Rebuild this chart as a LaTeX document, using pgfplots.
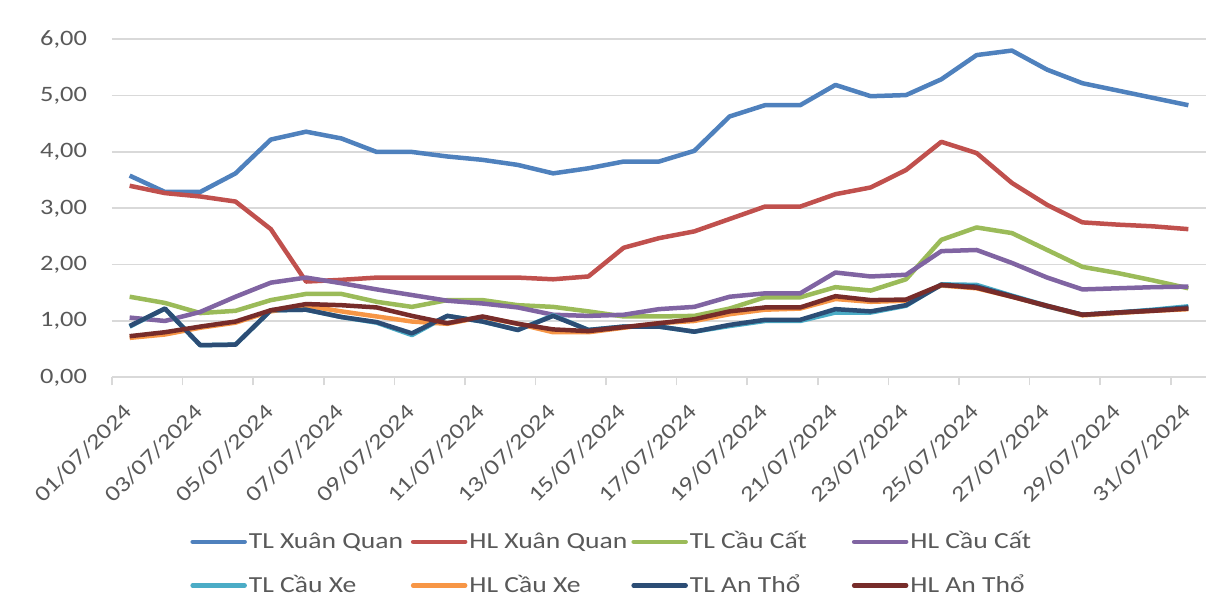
\documentclass[border=0pt]{standalone}
\usepackage{pgfplots}
\pgfplotsset{compat=1.18}
\usepackage{pgfplotstable}
\usepackage{fontspec}
\setmainfont{Carlito}[FakeStretch=1.2]
\definecolor{cA}{HTML}{4F81BD}
\definecolor{cB}{HTML}{C0504D}
\definecolor{cC}{HTML}{9BBB59}
\definecolor{cD}{HTML}{8064A2}
\definecolor{cE}{HTML}{4BACC6}
\definecolor{cF}{HTML}{F79646}
\definecolor{cG}{HTML}{2C4D75}
\definecolor{cH}{HTML}{772C2A}
\definecolor{gridc}{HTML}{D9D9D9}
\definecolor{txtc}{HTML}{595959}
\pgfplotstableread{
day TLXQ HLXQ TLCC HLCC TLCX HLCX TLAT HLAT
1 3.58 3.40 1.43 1.06 0.90 0.70 0.91 0.73
2 3.29 3.27 1.32 1.00 1.22 0.76 1.22 0.80
3 3.29 3.21 1.14 1.16 0.57 0.88 0.57 0.90
4 3.62 3.12 1.18 1.43 0.58 0.97 0.58 0.99
5 4.22 2.63 1.37 1.68 1.19 1.17 1.19 1.19
6 4.36 1.70 1.48 1.77 1.20 1.27 1.20 1.30
7 4.24 1.73 1.48 1.67 1.07 1.17 1.07 1.28
8 4.00 1.77 1.34 1.56 0.97 1.08 0.98 1.24
9 4.00 1.77 1.25 1.46 0.75 0.99 0.78 1.09
10 3.92 1.77 1.37 1.36 1.09 0.95 1.09 0.96
11 3.86 1.77 1.37 1.31 0.99 1.07 0.99 1.08
12 3.77 1.77 1.28 1.24 0.84 0.95 0.84 0.95
13 3.62 1.74 1.25 1.11 1.10 0.80 1.09 0.85
14 3.71 1.79 1.17 1.09 0.84 0.80 0.84 0.82
15 3.83 2.30 1.08 1.11 0.90 0.88 0.90 0.89
16 3.83 2.47 1.08 1.21 0.90 0.96 0.90 0.96
17 4.02 2.59 1.09 1.25 0.81 1.00 0.81 1.03
18 4.63 2.81 1.22 1.43 0.91 1.12 0.93 1.17
19 4.83 3.03 1.42 1.49 1.00 1.20 1.02 1.24
20 4.83 3.03 1.42 1.49 1.00 1.22 1.02 1.24
21 5.19 3.25 1.60 1.86 1.15 1.39 1.21 1.44
22 4.99 3.37 1.54 1.79 1.15 1.34 1.17 1.37
23 5.01 3.68 1.74 1.82 1.27 1.36 1.28 1.38
24 5.29 4.18 2.44 2.24 1.65 1.63 1.64 1.64
25 5.72 3.98 2.66 2.26 1.64 1.58 1.61 1.59
26 5.80 3.45 2.56 2.03 1.45 1.43 1.44 1.43
27 5.46 3.06 2.26 1.77 1.27 1.26 1.26 1.27
28 5.22 2.75 1.96 1.56 1.11 1.10 1.11 1.11
29 5.09 2.71 1.85 1.58 1.15 1.14 1.15 1.15
30 4.96 2.68 1.72 1.60 1.20 1.18 1.19 1.18
31 4.83 2.63 1.58 1.61 1.26 1.21 1.24 1.22
}\datatable
\newcommand{\lt}[1]{\makebox[80pt][l]{#1}}
\begin{document}
\begin{tikzpicture}
\begin{axis}[
  scale only axis,
  width=547pt, height=169pt,
  xmin=0.5, xmax=31.5, ymin=0, ymax=6,
  xtick={1,3,...,31},
  xticklabels={01/07/2024,03/07/2024,05/07/2024,07/07/2024,09/07/2024,11/07/2024,13/07/2024,15/07/2024,17/07/2024,19/07/2024,21/07/2024,23/07/2024,25/07/2024,27/07/2024,29/07/2024,31/07/2024},
  minor xtick={0.5,2.5,...,30.5},
  ytick={0,1,...,6},
  major tick length=0pt,
  minor tick length=4pt,
  tick align=outside,
  xtick pos=bottom, ytick pos=left,
  axis line style={draw=none},
  ymajorgrids,
  grid style={draw=gridc, line width=0.8pt},
  minor tick style={draw=gridc, line width=0.8pt},
  tick label style={font=\fontsize{11}{13}\selectfont, text=txtc},
  /pgf/number format/use comma,
  /pgf/number format/fixed,
  /pgf/number format/fixed zerofill,
  /pgf/number format/precision=2,
  /pgf/number format/assume math mode=true,
  yticklabel style={xshift=-9pt},
  xticklabel style={xshift=1.8pt, yshift=-13pt, rotate=45, anchor=east},
  every axis plot/.append style={line width=2.25pt, line join=round, no markers},
  legend image code/.code={\draw[#1, line width=2.25pt, line cap=round] (0pt,0pt) -- (26pt,0pt);},
  legend columns=4,
  legend style={draw=none, at={(axis description cs:0,0)}, anchor=north west, xshift=39pt, yshift=-76pt,
    font=\fontsize{11.5}{13}\selectfont, text=txtc, inner sep=0pt, column sep=0pt, row sep=9.5pt,
    nodes={inner sep=1pt}},
]
\addplot[color=cA] table[x=day, y=TLXQ] {\datatable};
\addlegendentry{\lt{TL Xuân Quan}}
\addplot[color=cB] table[x=day, y=HLXQ] {\datatable};
\addlegendentry{\lt{HL Xuân Quan}}
\addplot[color=cC] table[x=day, y=TLCC] {\datatable};
\addlegendentry{\lt{TL Cầu Cất}}
\addplot[color=cD] table[x=day, y=HLCC] {\datatable};
\addlegendentry{\lt{HL Cầu Cất}}
\addplot[color=cE] table[x=day, y=TLCX] {\datatable};
\addlegendentry{\lt{TL Cầu Xe}}
\addplot[color=cF] table[x=day, y=HLCX] {\datatable};
\addlegendentry{\lt{HL Cầu Xe}}
\addplot[color=cG] table[x=day, y=TLAT] {\datatable};
\addlegendentry{\lt{TL An Thổ}}
\addplot[color=cH] table[x=day, y=HLAT] {\datatable};
\addlegendentry{\lt{HL An Thổ}}
\end{axis}
\pgfresetboundingbox
\useasboundingbox ([shift={(-56pt,-118.35pt)}]current axis.south west) rectangle ([shift={(7pt,19.65pt)}]current axis.north east);
\end{tikzpicture}
\end{document}
